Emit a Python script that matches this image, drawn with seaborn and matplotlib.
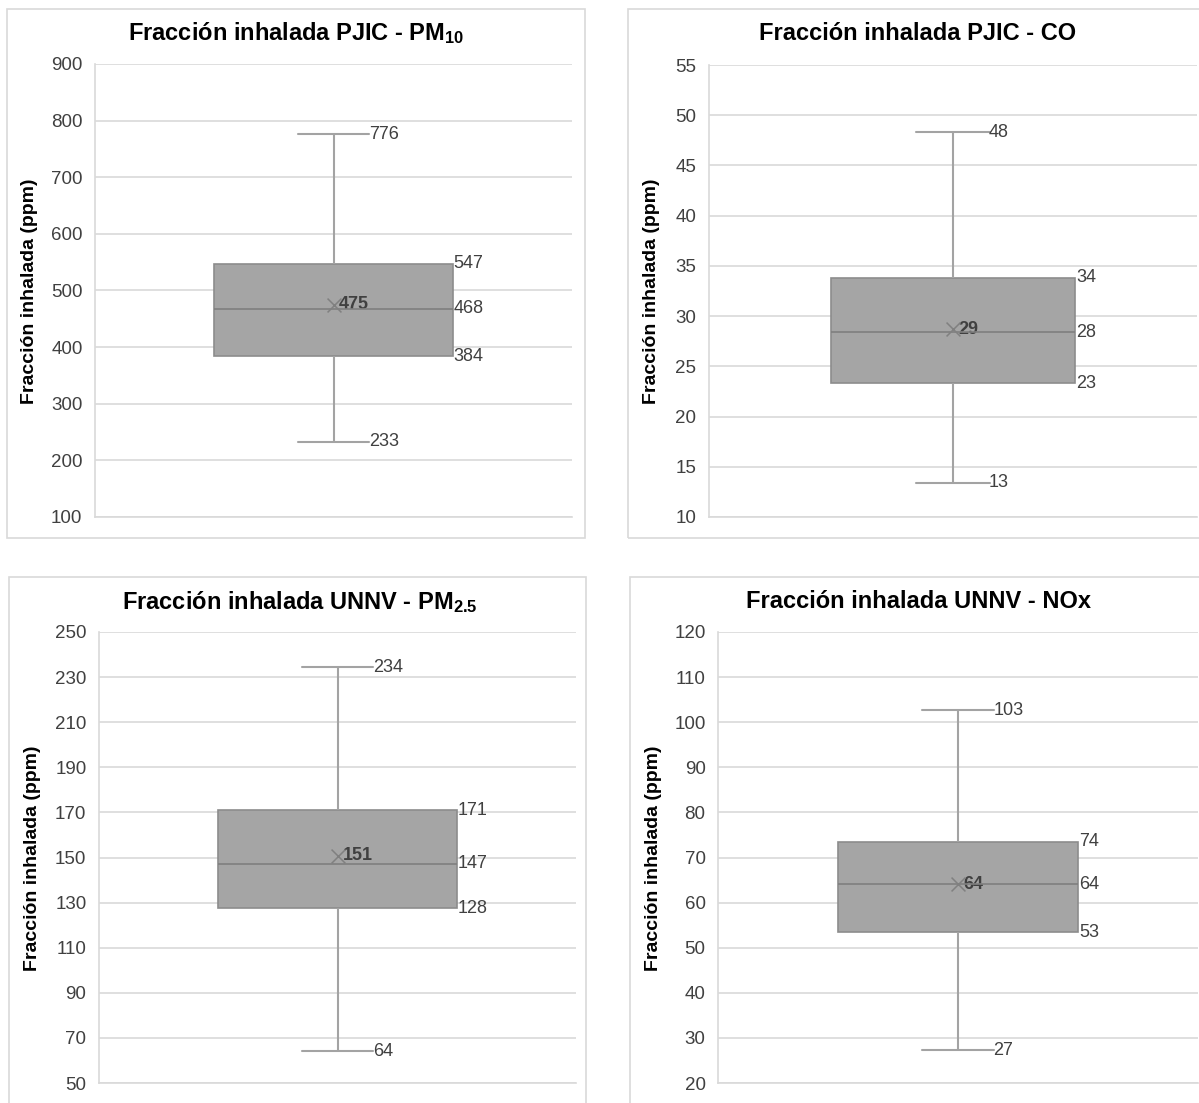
import numpy as np
import pandas as pd
import matplotlib
matplotlib.use("Agg")
import matplotlib.pyplot as plt
from matplotlib.patches import Rectangle
import seaborn as sns

# ---- data ----
titles = [r"Fracción inhalada PJIC - PM$_{\mathbf{10}}$",
          "Fracción inhalada PJIC - CO",
          r"Fracción inhalada UNNV - PM$_{\mathbf{2.5}}$",
          "Fracción inhalada UNNV - NOx"]
ylabel = "Fracción inhalada (ppm)"

pm10_stats = [233, 384, 468, 547, 776]   # min, q1, median, q3, max
pm10_mean = 475
co_stats = [13.4, 23.3, 28.4, 33.8, 48.3]
co_mean = 28.7
pm25_stats = [64.0, 127.6, 147.2, 171.0, 234.4]
pm25_mean = 150.7
nox_stats = [27.3, 53.4, 64.1, 73.5, 102.7]
nox_mean = 64.1

pm10_ticks = [100, 200, 300, 400, 500, 600, 700, 800, 900]
co_ticks = [10, 15, 20, 25, 30, 35, 40, 45, 50, 55]
pm25_ticks = [50, 70, 90, 110, 130, 150, 170, 190, 210, 230, 250]
nox_ticks = [20, 30, 40, 50, 60, 70, 80, 90, 100, 110, 120]

panels = [
    dict(stats=pm10_stats, mean=pm10_mean, ticks=pm10_ticks, title=titles[0]),
    dict(stats=co_stats, mean=co_mean, ticks=co_ticks, title=titles[1]),
    dict(stats=pm25_stats, mean=pm25_mean, ticks=pm25_ticks, title=titles[2]),
    dict(stats=nox_stats, mean=nox_mean, ticks=nox_ticks, title=titles[3]),
]

# ---- layout (pixels) ----
W, H = 1199, 1103
panel_px = [(7, 9, 585, 538), (628, 9, 1210, 538), (9, 577, 586, 1120), (630, 577, 1215, 1120)]
axes_px = [(95, 64, 572, 517), (709, 65, 1197, 517), (99, 632, 576, 1083), (718, 632, 1198, 1083)]
title_px = [(296, 33), (918, 33), (300, 602), (918, 602)]
ylab_px = [(30, 291), (652, 291), (33, 858), (653, 858)]

sns.set_theme(style="white")
plt.rcParams["font.family"] = ["Liberation Sans", "DejaVu Sans"]
plt.rcParams["mathtext.fontset"] = "custom"
plt.rcParams["mathtext.rm"] = "Liberation Sans"
plt.rcParams["mathtext.bf"] = "Liberation Sans:bold"
plt.rcParams["mathtext.it"] = "Liberation Sans:italic"

fig = plt.figure(figsize=(W / 100, H / 100), dpi=100)
fig.patch.set_facecolor("white")

GRID = "#D9D9D9"
BOXFACE = "#A5A5A5"
BOXEDGE = "#8C8C8C"
WHISK = "#A3A3A3"
TXT = "#404040"

def fx(x):
    return x / W

def fy(y):
    return 1 - y / H

for p, pp, ap, tp, lp in zip(panels, panel_px, axes_px, title_px, ylab_px):
    x0, y0, x1, y1 = pp
    fig.add_artist(Rectangle((fx(x0), fy(y1)), fx(x1 - x0), (y1 - y0) / H,
                             transform=fig.transFigure, fill=False,
                             edgecolor=GRID, linewidth=1.2))
    a0, b0, a1, b1 = ap
    ax = fig.add_axes([fx(a0), fy(b1), fx(a1 - a0), (b1 - b0) / H])
    df = pd.DataFrame({"v": p["stats"]})
    sns.boxplot(data=df, y="v", ax=ax, width=0.5, whis=(0, 100),
                color=BOXFACE, linewidth=1.2, capwidths=0.15,
                boxprops=dict(facecolor=BOXFACE, edgecolor=BOXEDGE),
                medianprops=dict(color="#7F7F7F", linewidth=1.2),
                whiskerprops=dict(color=WHISK, linewidth=1.5),
                capprops=dict(color=WHISK, linewidth=1.5),
                showfliers=False, zorder=3)
    ax.scatter([0], [p["mean"]], marker="x", s=100, color="#808080",
               linewidths=1.1, zorder=5)
    ticks = p["ticks"]
    ax.set_ylim(ticks[0], ticks[-1])
    ax.set_xlim(-0.5, 0.5)
    ax.set_yticks(ticks)
    ax.set_yticklabels([str(t) for t in ticks])
    ax.set_xticks([])
    ax.set_xlabel("")
    ax.set_ylabel("")
    ax.yaxis.grid(True, color=GRID, linewidth=1.2, zorder=0)
    ax.set_axisbelow(True)
    for s in ["top", "right"]:
        ax.spines[s].set_visible(False)
    ax.spines["left"].set_color(GRID)
    ax.spines["bottom"].set_color(GRID)
    ax.spines["left"].set_linewidth(1.2)
    ax.spines["bottom"].set_linewidth(1.2)
    ax.tick_params(axis="y", length=0, pad=9, labelsize=13.5, labelcolor=TXT)

    mn, q1, med, q3, mx = p["stats"]
    for v in (q1, med, q3):
        ax.text(0.252, v, f"{v:.0f}", ha="left", va="center", fontsize=13, color=TXT)
    for v in (mn, mx):
        ax.text(0.074, v, f"{v:.0f}", ha="left", va="center", fontsize=13, color=TXT)
    ax.text(0.012, p["mean"], f"{p['mean']:.0f}", ha="left", va="center",
            fontsize=13, fontweight="bold", color="#404040")

    fig.text(fx(tp[0]), fy(tp[1]), p["title"], ha="center", va="center",
             fontsize=17, fontweight="bold", color="black")
    fig.text(fx(lp[0]), fy(lp[1]), ylabel, ha="center", va="center",
             rotation=90, fontsize=14, fontweight="bold", color="black")

fig.savefig("out.png", dpi=100, facecolor="white")
